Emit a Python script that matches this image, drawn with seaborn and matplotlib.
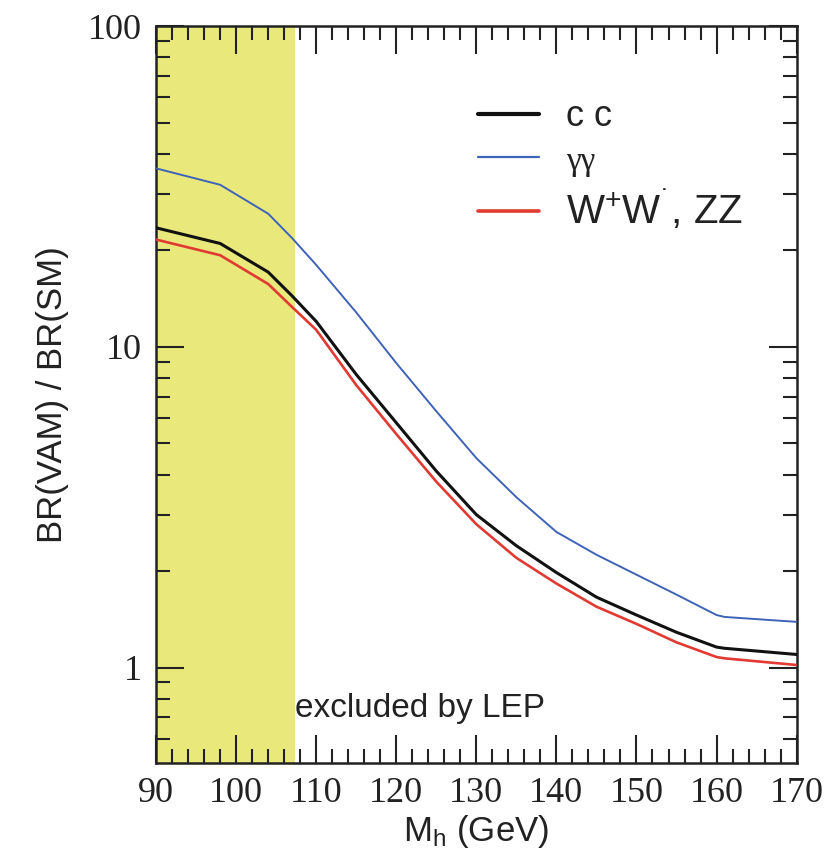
import numpy as np
import pandas as pd
import matplotlib
matplotlib.use("Agg")
import matplotlib.pyplot as plt
import seaborn as sns
from matplotlib.ticker import MultipleLocator, LogLocator, FuncFormatter, NullFormatter

# Higgs mass points (GeV) and BR(VAM)/BR(SM) ratios
mass = [90, 98, 104, 107, 110, 115, 120, 125, 130, 135, 140, 145, 150, 155, 160, 161, 170]
ratio_cc = [23.5, 21.0, 17.1, 14.4, 12.0, 8.2, 5.8, 4.1, 3.0, 2.4, 1.98, 1.66, 1.46, 1.29, 1.16, 1.15, 1.10]
ratio_gg = [36.0, 32.0, 26.0, 21.8, 18.0, 12.8, 8.9, 6.3, 4.5, 3.4, 2.65, 2.25, 1.95, 1.69, 1.46, 1.44, 1.39]
ratio_ww = [21.6, 19.3, 15.7, 13.3, 11.3, 7.6, 5.35, 3.8, 2.8, 2.2, 1.83, 1.55, 1.37, 1.2, 1.08, 1.07, 1.02]

channels = ["c c", "γγ", "W$^{+}$W$^{\u02d9}$, ZZ"]
colors = ["#111111", "#3f63b8", "#e03a33"]
widths = [2.2, 1.4, 1.9]
lep_limit = 107.3

df = pd.DataFrame({
    "M": mass * 3,
    "ratio": ratio_cc + ratio_gg + ratio_ww,
    "channel": [channels[0]] * len(mass) + [channels[1]] * len(mass) + [channels[2]] * len(mass),
})

sns.set_style("ticks")
plt.rcParams["font.family"] = ["Liberation Sans", "DejaVu Sans"]
plt.rcParams["mathtext.default"] = "regular"

fig = plt.figure(figsize=(8.35, 8.67), dpi=100)
ax = fig.add_axes([0.187, 0.120, 0.767, 0.850])

ax.axvspan(90, lep_limit, color="#e9e97b", lw=0, zorder=0)

sns.lineplot(data=df, x="M", y="ratio", hue="channel", hue_order=channels,
             palette=colors, legend=False, ax=ax, zorder=3)
for line, w in zip(ax.lines, widths):
    line.set_linewidth(w)

ax.set_yscale("log")
ax.set_xlim(90, 170)
ax.set_ylim(0.505, 100)

ax.xaxis.set_major_locator(MultipleLocator(10))
ax.xaxis.set_minor_locator(MultipleLocator(2))
ax.yaxis.set_major_locator(LogLocator(base=10))
ax.yaxis.set_minor_locator(LogLocator(base=10, subs=np.arange(2, 10)))
ax.yaxis.set_major_formatter(FuncFormatter(lambda v, p: "%g" % v))
ax.yaxis.set_minor_formatter(NullFormatter())

ax.tick_params(which="both", direction="in", top=True, right=True, color="#222222")
ax.tick_params(which="major", length=20, width=1.5, pad=10, labelsize=26, labelcolor="#222222")
ax.tick_params(which="minor", length=10, width=1.5)
for lab in ax.get_xticklabels() + ax.get_yticklabels():
    lab.set_family("Liberation Serif")
for sp in ax.spines.values():
    sp.set_linewidth(1.8)
    sp.set_color("#222222")

ax.set_xlabel("M$_{h}$ (GeV)", fontsize=25, labelpad=2, color="#222222")
ax.set_ylabel("BR(VAM) / BR(SM)", fontsize=25, labelpad=14, color="#222222")

ax.text(lep_limit, 0.70, "excluded by LEP", fontsize=24, ha="left", va="baseline", color="#222222")

leg = ax.legend(ax.lines, channels, loc="upper left", bbox_to_anchor=(0.48, 0.92),
                frameon=False, fontsize=26, handlelength=1.7, handletextpad=0.75,
                labelspacing=0.28, borderaxespad=0)
texts = leg.get_texts()
texts[0].set_fontsize(26)
texts[1].set_fontsize(24)
texts[1].set_family("Liberation Serif")
texts[2].set_fontsize(29)
for t in texts:
    t.set_color("#222222")
for h, w in zip(leg.get_lines(), [3.0, 1.6, 2.6]):
    h.set_linewidth(w)

plt.savefig("out.png", dpi=100)
